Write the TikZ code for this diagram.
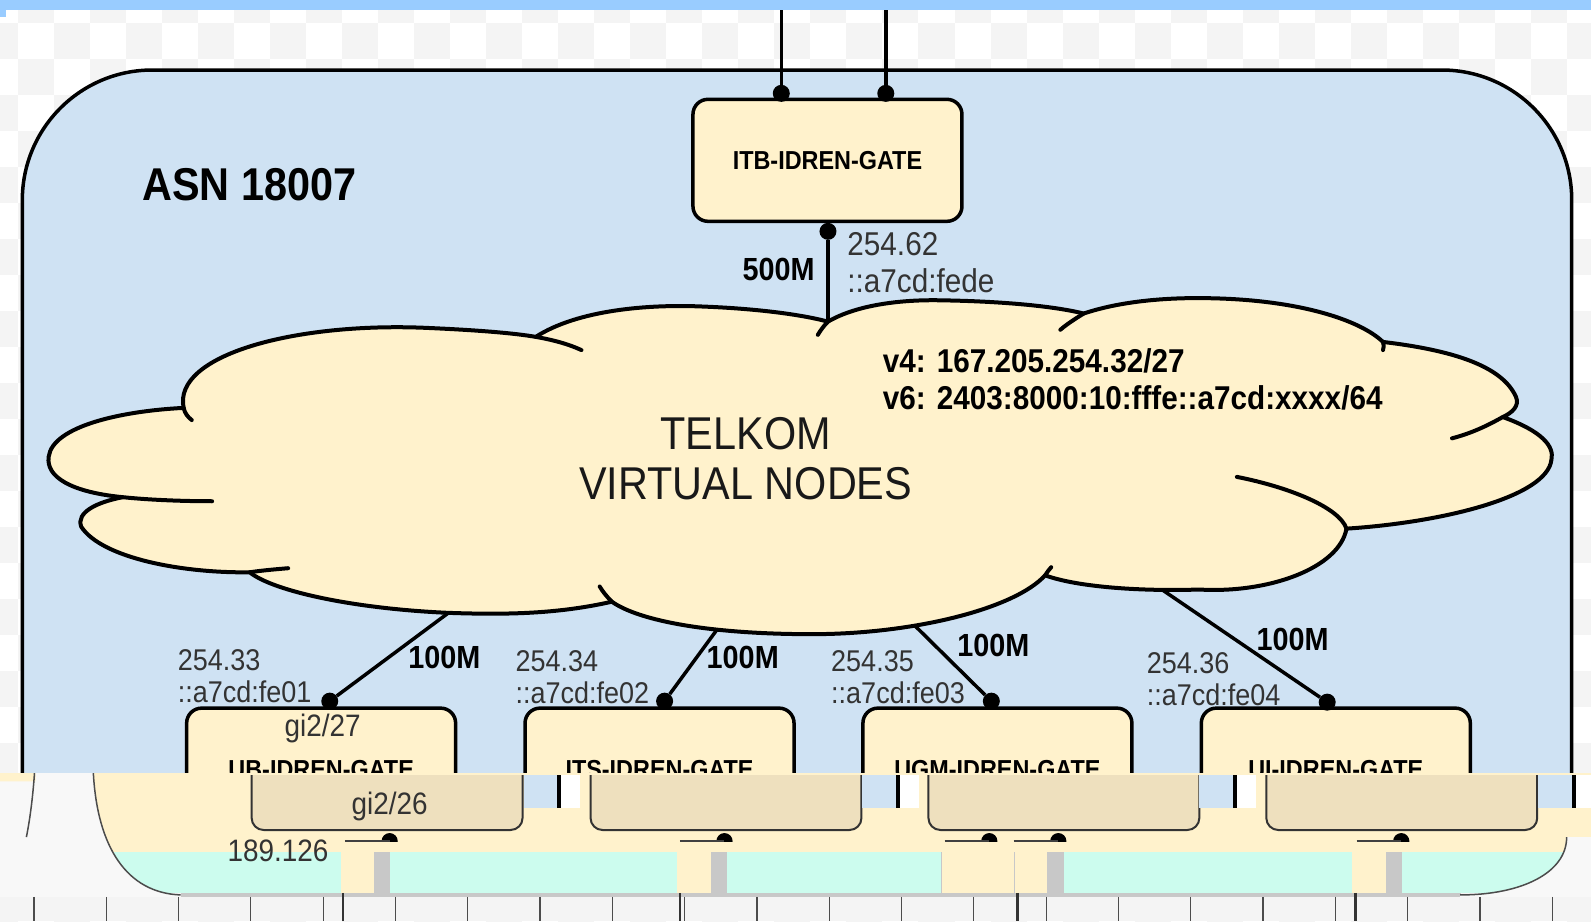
\documentclass[tikz,border=0pt]{standalone}
\usepackage{fontspec}
\setmainfont{Liberation Sans}[FakeStretch=0.9]
\usetikzlibrary{calc}

\definecolor{asnblue}{RGB}{207,226,243}
\definecolor{barblue}{RGB}{153,204,255}
\definecolor{gatefill}{RGB}{255,242,204}
\definecolor{ghostfill}{RGB}{238,224,190}
\definecolor{mintstrip}{RGB}{204,252,238}
\definecolor{checkgray}{RGB}{244,244,244}
\definecolor{addrgray}{RGB}{51,51,51}
\definecolor{tickgray}{RGB}{200,200,200}

\tikzset{
  gate/.style={draw, line width=3.5pt, fill=gatefill, rounded corners=15pt,
    minimum width=269pt, minimum height=122pt, inner sep=0pt,
    font=\fontsize{26}{30}\selectfont\bfseries},
  port/.style={circle, fill=black, inner sep=0pt, minimum size=17pt},
  link/.style={line width=3.5pt},
  speed/.style={inner sep=0pt, font=\fontsize{32}{36}\selectfont\bfseries},
  addr/.style={inner sep=0pt, anchor=west, align=left, text=addrgray,
    font=\fontsize{30}{31.5}\selectfont},
  iface/.style={inner sep=0pt, text=addrgray, font=\fontsize{31}{34}\selectfont},
}

\begin{document}
\begin{tikzpicture}[x=1.0147pt, y=-1.0147pt, line join=round]
\useasboundingbox (0,0) rectangle (1568,908);

% canvas checker and window bar
\fill[white] (0,0) rectangle (1568,908);
\begin{scope}
\clip (0,0) rectangle (1568,908);
\foreach \i in {0,...,45} {
  \foreach \j in {0,...,26} {
    \pgfmathtruncatemacro\chk{mod(\i+\j,2)}
    \ifnum\chk=1
      \fill[checkgray] ({-17.8+35.5*\i},{-12.8+35.5*\j}) rectangle +(35.5,35.5);
    \fi
  }
}
\end{scope}
\fill[barblue] (0,0) rectangle (1568,10);
\fill[barblue] (0,10) rectangle (6,17);

% AS boundary
\draw[line width=3.5pt, fill=asnblue, rounded corners=130pt] (22,69) rectangle (1549,900);
\node[anchor=west, inner sep=0pt, font=\fontsize{46}{50}\selectfont\bfseries] (asn) at (140,182) {ASN 18007};

% cloud
\filldraw[line width=4pt, fill=gatefill] (181,402)
  .. controls (170,350) and (290,318) .. (417,323)
  .. controls (465,325) and (505,328) .. (528,332)
  .. controls (570,305) and (640,300) .. (690,302)
  .. controls (745,304) and (790,310) .. (816,317)
  .. controls (845,300) and (890,295) .. (929,296)
  .. controls (990,297) and (1040,302) .. (1068,309)
  .. controls (1110,295) and (1160,293) .. (1196,294)
  .. controls (1280,296) and (1340,315) .. (1363,337)
  .. controls (1430,345) and (1480,360) .. (1494,391)
  .. controls (1498,400) and (1490,407) .. (1481,411)
  .. controls (1520,425) and (1532,440) .. (1529,453)
  .. controls (1525,490) and (1420,515) .. (1327,521)
  .. controls (1320,560) and (1250,585) .. (1182,581)
  .. controls (1120,583) and (1060,578) .. (1030,567)
  .. controls (1000,600) and (900,625) .. (800,625)
  .. controls (700,625) and (630,612) .. (603,593)
  .. controls (550,605) and (500,606) .. (442,604)
  .. controls (350,600) and (270,583) .. (246,564)
  .. controls (180,565) and (100,550) .. (80,519)
  .. controls (75,505) and (95,495) .. (121,490)
  .. controls (70,485) and (45,470) .. (48,450)
  .. controls (52,420) and (120,405) .. (181,402) -- cycle;
\draw[line width=4pt, line cap=round]
  (528,332) .. controls (545,335) and (560,339) .. (573,345)
  (181,402) .. controls (182,407) and (185,411) .. (189,414)
  (121,490) .. controls (150,493) and (185,494) .. (209,494)
  (246,564) .. controls (260,562) and (272,561) .. (284,560)
  (603,593) .. controls (598,588) and (594,583) .. (591,578)
  (1030,567) .. controls (1032,564) and (1034,561) .. (1036,559)
  (1327,521) .. controls (1320,500) and (1270,480) .. (1219,470)
  (1481,411) .. controls (1465,420) and (1450,427) .. (1431,432)
  (1363,337) .. controls (1364,340) and (1364,342) .. (1363,345)
  (1068,309) .. controls (1060,314) and (1052,319) .. (1045,325)
  (816,317) .. controls (812,321) and (809,325) .. (806,330);
\node[inner sep=0pt, align=center, text=black!90, font=\fontsize{46}{50}\selectfont] (telkom) at (735,452) {TELKOM\\VIRTUAL NODES};
\node[inner sep=0pt, anchor=west, align=left, font=\fontsize{33}{36.5}\selectfont\bfseries] (prefix) at (870,374) {v4: 167.205.254.32/27\\v6: 2403:8000:10:fffe::a7cd:xxxx/64};

% upstream gate
\node[gate] (itb) at (815.5,158) {ITB-IDREN-GATE};
\node[port] (itb-n1) at (770,92) {};
\node[port] (itb-n2) at (873,92) {};
\node[port] (itb-s) at (816,228) {};
\coordinate (wan1) at (770,10);
\coordinate (wan2) at (873,10);
\coordinate (cl-itb) at (816,317);
\draw[link] (wan1) -- (itb-n1);
\draw[link] (wan2) -- (itb-n2);
\draw[link] (itb-s) -- (cl-itb);
\node[speed, anchor=east] (bw-itb) at (803,266) {500M};
\node[addr, font=\fontsize{33}{36.5}\selectfont] (ip-itb) at (835,259) {254.62\\::a7cd:fede};

% member gates
\node[gate] (ub) at (316.5,758) {UB-IDREN-GATE};
\node[gate] (its) at (650,758) {ITS-IDREN-GATE};
\node[gate] (ugm) at (983,758) {UGM-IDREN-GATE};
\node[gate] (ui) at (1316.5,758) {UI-IDREN-GATE};
\node[port] (ub-n) at (325,691) {};
\node[port] (its-n) at (655,691) {};
\node[port] (ugm-n) at (977,691) {};
\node[port] (ui-n) at (1308,692) {};
\coordinate (cl-ub) at (442,604);
\coordinate (cl-its) at (707,620);
\coordinate (cl-ugm) at (902,617);
\coordinate (cl-ui) at (1145,581);
\draw[link] (cl-ub) -- (ub-n);
\draw[link] (cl-its) -- (its-n);
\draw[link] (cl-ugm) -- (ugm-n);
\draw[link] (cl-ui) -- (ui-n);
\node[speed] (bw-ub) at (438,648) {100M};
\node[speed] (bw-its) at (732,648) {100M};
\node[speed] (bw-ugm) at (979,636) {100M};
\node[speed] (bw-ui) at (1274,630) {100M};
\node[addr] (ip-ub) at (175,666.5) {254.33\\::a7cd:fe01};
\node[addr] (ip-its) at (508,667.5) {254.34\\::a7cd:fe02};
\node[addr] (ip-ugm) at (819,667.5) {254.35\\::a7cd:fe03};
\node[addr] (ip-ui) at (1130,669.5) {254.36\\::a7cd:fe04};
\node[iface] (gi-ub) at (318,718) {gi2/27};

% broken lower strip of the screenshot
\fill[gatefill] (0,762) rectangle (1568,840);
\fill[mintstrip] (92,840) rectangle (1568,880);
\foreach \a/\b in {336/369, 667/701, 928/1032, 1332/1366}
  \fill[gatefill] (\a,840) rectangle (\b,880);
\foreach \a/\b in {369/384, 701/716, 1032/1049, 1366/1382}
  \fill[tickgray] (\a,840) rectangle (\b,880);
\draw[tickgray, line width=1pt] (928,840) -- (928,880) (1000,840) -- (1000,880);
\fill[checkgray] (0,880) rectangle (1568,908);
\fill[tickgray] (178,880) rectangle (1440,884);
\fill[checkgray!60!white] (0,770) -- (35,770) -- (35,762) -- (92,762)
  .. controls (96,835) and (125,880) .. (178,882) -- (178,884) -- (0,884) -- cycle;
\fill[checkgray!60!white] (1544,825) .. controls (1544,860) and (1500,882) .. (1439,882)
  -- (1439,884) -- (1568,884) -- (1568,825) -- cycle;
\draw[black!70, line width=1.5pt] (92,762) .. controls (96,835) and (125,880) .. (178,882);
\draw[black!70, line width=1.5pt] (34,762) .. controls (32,790) and (29,810) .. (26,825);
\draw[black!70, line width=1.5pt] (1544,825) .. controls (1544,860) and (1500,882) .. (1439,882);
\foreach \x in {248,582,915,1248}
  \filldraw[fill=ghostfill, draw=black!80, line width=2pt, rounded corners=12pt]
    (\x,764) -- (\x,818) -- ({\x+267},818) -- ({\x+267},764);
\foreach \x in {516,850,1182,1516} {
  \fill[asnblue] (\x,764) rectangle ({\x+33},796);
  \fill[black] ({\x+33},764) rectangle ({\x+37},796);
  \fill[white] ({\x+37},764) rectangle ({\x+56},796);
}
\begin{scope}
\clip (0,760) rectangle (1568,829);
\foreach \x in {384,714,975,1043,1381}
  \fill (\x,829) circle (8);
\end{scope}
\foreach \x in {384,714,975,1043,1381}
  \draw[black!75, line width=2.5pt] ({\x-44},829) -- (\x,829);
\node[iface] (gi-ub-2) at (384,795) {gi2/26};
\node[iface] (ip-ub-2) at (274,839) {189.126};
\foreach \k in {0,...,21}
  \draw[black!70, line width=1.2pt] ({33.5+71.25*\k},884) -- ({33.5+71.25*\k},908);
\foreach \x in {338,670,1003,1336}
  \draw[black!80, line width=2.5pt] (\x,880) -- (\x,908);
\end{tikzpicture}
\end{document}
